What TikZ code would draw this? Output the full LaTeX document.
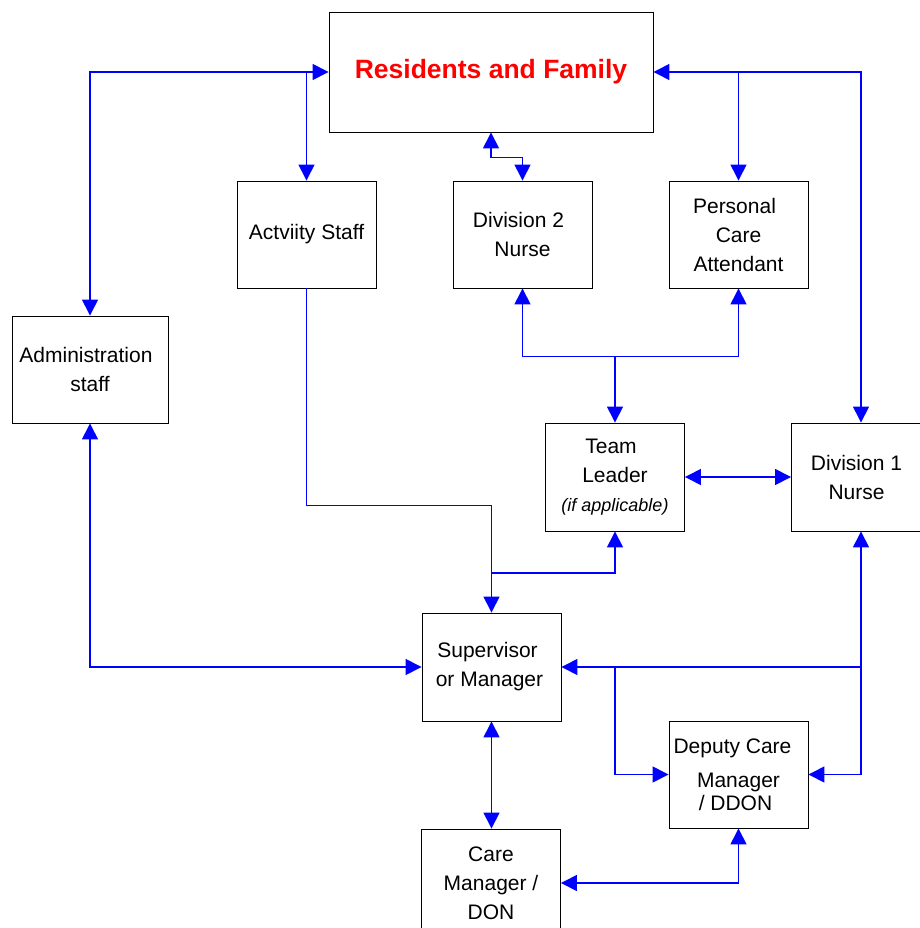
\documentclass[tikz,border=0pt]{standalone}
\usepackage{fontspec}
\setmainfont{Liberation Sans}
\usetikzlibrary{arrows.meta}
\begin{document}
\begin{tikzpicture}[x=1pt,y=-1pt,
  box/.style={draw=black, line width=0.9pt, fill=white, align=center, inner sep=0pt,
    minimum width=139pt, minimum height=107pt, font=\fontsize{21}{29}\selectfont},
  conn/.style={draw=blue, line width=1.4pt, >={Triangle[length=16pt,width=16pt]}}]
\useasboundingbox (0,0) rectangle (919,928);
% boxes
\node[box, minimum width=324pt, minimum height=120pt, text=red,
  font=\fontsize{26.5}{32}\selectfont\bfseries] (res) at (491,72) {Residents and Family};
\node[box] (act) at (306.5,234.5) {Actviity Staff};
\node[box] (div2) at (522.5,234.5) {Division 2\hspace*{8pt}\\Nurse};
\node[box] (pca) at (738.5,234.5) {Personal\hspace*{8pt}\\Care\hspace*{6pt}\\Attendant};
\node[box, minimum width=156pt] (adm) at (90,369.5) {Administration\hspace*{8pt}\\staff};
\node[box, minimum height=108pt] (tl) at (615,477) {Team\hspace*{8pt}\\Leader\hspace*{6pt}\\{\fontsize{18}{24}\selectfont\itshape (if applicable)}};
\node[box, minimum height=108pt] (div1) at (861,477) {Division 1\hspace*{9pt}\\Nurse\hspace*{9pt}};
\node[box, minimum height=108pt] (sup) at (491.5,667) {Supervisor\hspace*{8pt}\\or Manager\hspace*{4pt}};
\node[box] (dep) at (738.5,774.5) {Deputy Care\hspace*{12pt}\\[5pt]Manager\\[-6pt]/ DDON\hspace*{6pt}};
\node[box, minimum height=108pt] (care) at (491,883) {Care\\Manager /\\DON};
% connectors
\draw[conn,<->] (adm.north) |- (res.west);
\draw[conn,->] (act.north |- res.west) -- (act.north);
\draw[conn,<->] (res.south) -- ++(0,25) -| (div2.north);
\draw[conn,<->] (res.east) -| (div1.north);
\draw[conn,->] (pca.north |- res.east) -- (pca.north);
\draw[conn,<->] (div2.south) -- ++(0,68) -| (pca.south);
\coordinate (tljoin) at (615,356);
\draw[conn,->] (tljoin) -- (tl.north);
\draw[conn,<->] (tl.east) -- (div1.west);
\draw[conn,->] (act.south) -- ++(0,217) -| (sup.north);
\coordinate (supjoin) at (491.5,573);
\draw[conn,->] (supjoin) -| (tl.south);
\draw[conn,<->] (adm.south) |- (sup.west);
\draw[conn,<->] (div1.south) |- (dep.east);
\draw[conn,->] (div1.south |- sup.east) -- (sup.east);
\draw[conn,->] (tl.south |- sup.east) |- (dep.west);
\draw[conn,<->] (sup.south) -- (sup.south |- care.north);
\draw[conn,<->] (care.east) -| (dep.south);
\end{tikzpicture}
\end{document}
